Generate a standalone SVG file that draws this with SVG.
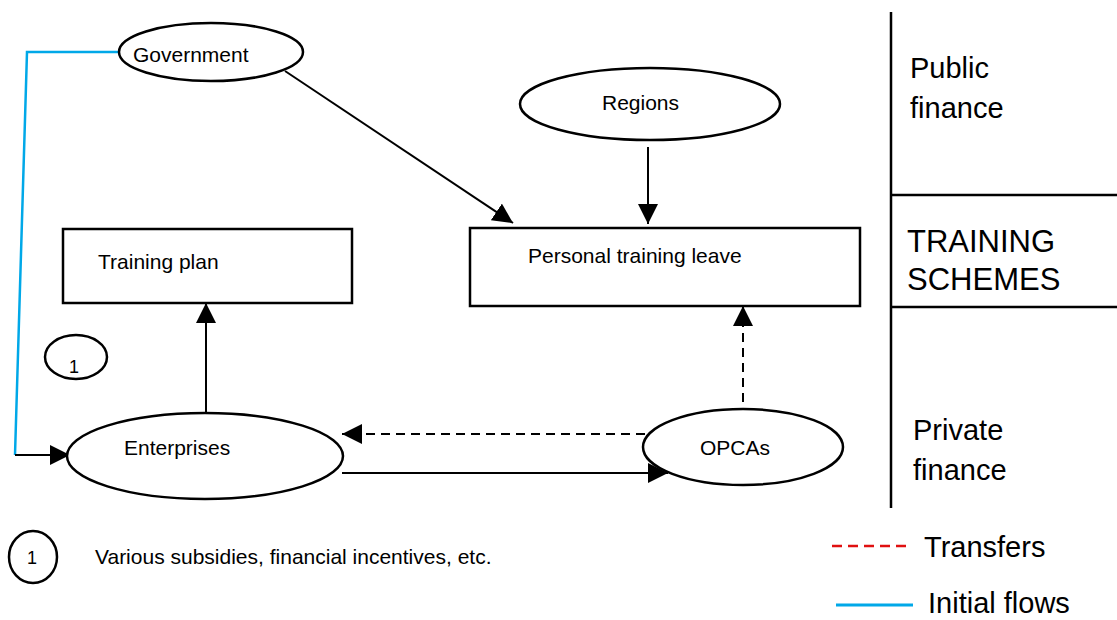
<svg xmlns="http://www.w3.org/2000/svg" width="1117" height="620" viewBox="0 0 1117 620">
<style>
text{font-family:"Liberation Sans",Arial,sans-serif;fill:#000}
.n{font-size:21px}
.big{font-size:29px}
.num{font-size:18px}
.shape{fill:#fff;stroke:#000;stroke-width:2.5}
.c{fill:none;stroke:#000;stroke-width:2}
.d{fill:none;stroke:#000;stroke-width:2;stroke-dasharray:9,6}
.rule{stroke:#000;stroke-width:2.5}
</style>
<defs>
<marker id="ah" viewBox="0 0 20 20" refX="20" refY="10" markerWidth="20" markerHeight="20" markerUnits="userSpaceOnUse" orient="auto">
<path d="M0,0 L20,10 L0,20 Z" fill="#000"/>
</marker>
</defs>
<rect width="1117" height="620" fill="#fff"/>
<g id="connectors">
<path d="M119,52 L27,52 L15,455" fill="none" stroke="#00a8e8" stroke-width="2.5"/>
<path class="c" d="M15,455 L70,455" marker-end="url(#ah)"/>
<path class="c" d="M285,71 L513,223" marker-end="url(#ah)"/>
<path class="c" d="M648,147 L648,224" marker-end="url(#ah)"/>
<path class="c" d="M206,413 L206,303" marker-end="url(#ah)"/>
<path class="d" d="M743,432 L743,306" marker-end="url(#ah)"/>
<path class="d" d="M645,434 L342,434" marker-end="url(#ah)"/>
<path class="c" d="M342,473 L668,473" marker-end="url(#ah)"/>
</g>
<g id="government">
<ellipse class="shape" cx="211" cy="52" rx="92" ry="29"/>
<text class="n" x="133" y="62">Government</text>
</g>
<g id="regions">
<ellipse class="shape" cx="650" cy="104" rx="130" ry="36"/>
<text class="n" x="602" y="110">Regions</text>
</g>
<g id="training-plan">
<rect class="shape" x="63" y="229" width="289" height="74"/>
<text class="n" x="98" y="269">Training plan</text>
</g>
<g id="personal-training-leave">
<rect class="shape" x="470" y="228" width="390" height="78"/>
<text class="n" x="528" y="263">Personal training leave</text>
</g>
<g id="note-1">
<ellipse class="shape" cx="76" cy="357" rx="31" ry="22"/>
<text class="num" x="69" y="373">1</text>
</g>
<g id="enterprises">
<ellipse class="shape" cx="205" cy="456" rx="138" ry="43"/>
<text class="n" x="124" y="455">Enterprises</text>
</g>
<g id="opcas">
<ellipse class="shape" cx="743" cy="447" rx="100" ry="38"/>
<text class="n" x="700" y="455">OPCAs</text>
</g>
<g id="panel">
<line class="rule" x1="891" y1="12" x2="891" y2="508"/>
<line class="rule" x1="891" y1="195" x2="1117" y2="195"/>
<line class="rule" x1="891" y1="307" x2="1117" y2="307"/>
<text class="big" x="910" y="78">Public</text>
<text class="big" x="910" y="118">finance</text>
<text x="907" y="252" font-size="31">TRAINING</text>
<text x="907" y="290" font-size="31">SCHEMES</text>
<text class="big" x="913" y="440">Private</text>
<text class="big" x="913" y="480">finance</text>
</g>
<g id="footnote">
<ellipse class="shape" cx="33" cy="557" rx="24" ry="26"/>
<text class="num" x="27" y="564">1</text>
<text class="n" x="95" y="564">Various subsidies, financial incentives, etc.</text>
</g>
<g id="legend">
<line x1="832" y1="546" x2="912" y2="546" stroke="#e01010" stroke-width="2.5" stroke-dasharray="10,6"/>
<text class="big" x="924" y="557">Transfers</text>
<line x1="836" y1="605" x2="913" y2="605" stroke="#00a8e8" stroke-width="3"/>
<text class="big" x="928" y="613">Initial flows</text>
</g>
</svg>
